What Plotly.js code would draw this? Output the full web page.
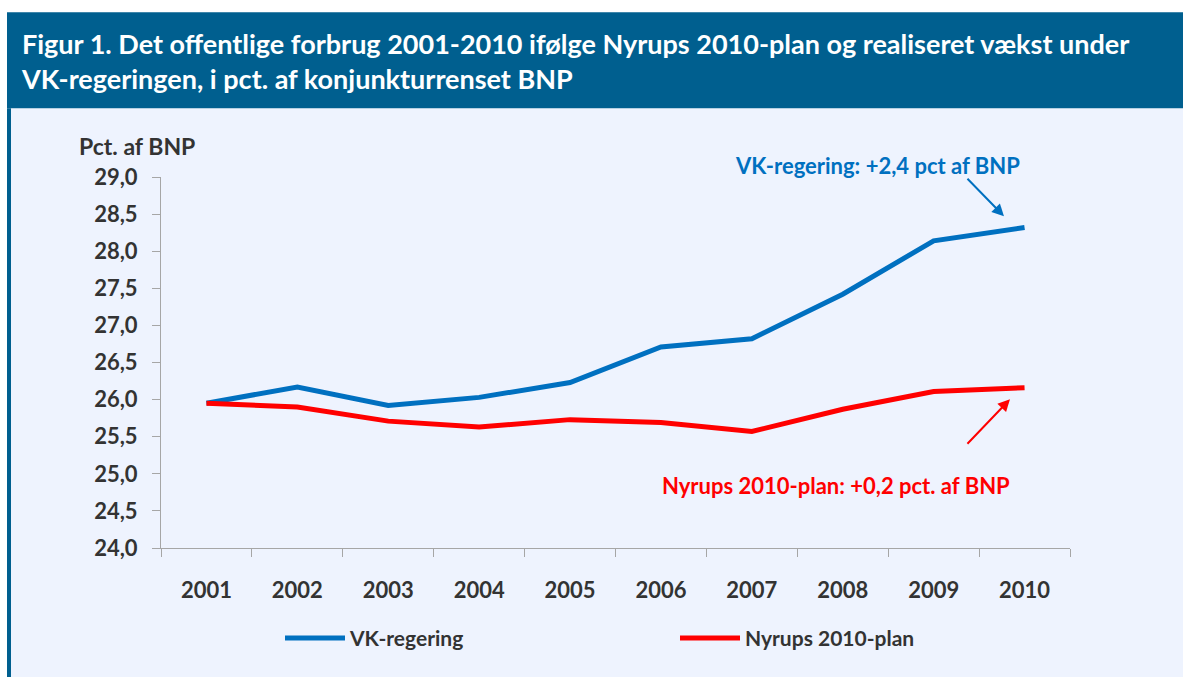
<!DOCTYPE html>
<html>
<head>
<meta charset="utf-8">
<script src="https://cdn.plot.ly/plotly-3.0.1.min.js"></script>
<style>html,body{margin:0;padding:0;background:#fff;}#chart{width:1183px;height:677px;}</style>
</head>
<body>
<div id="chart"></div>
<script>
var years = ['2001','2002','2003','2004','2005','2006','2007','2008','2009','2010'];
var vkRegering = [25.95, 26.17, 25.92, 26.03, 26.23, 26.71, 26.82, 27.42, 28.14, 28.32];
var nyrupsPlan = [25.95, 25.90, 25.71, 25.63, 25.73, 25.69, 25.57, 25.87, 26.11, 26.16];
var yTickVals = [24, 24.5, 25, 25.5, 26, 26.5, 27, 27.5, 28, 28.5, 29];
var yTickText = ['24,0','24,5','25,0','25,5','26,0','26,5','27,0','27,5','28,0','28,5','29,0'];
var seriesNames = ['VK-regering', 'Nyrups 2010-plan'];

var FONT = 'Lato, "Open Sans", sans-serif';
var L = 161, R = 1070, T = 176.7, B = 547.7;
function px(x){ return (x - L) / (R - L); }
function py(y){ return (B - y) / (B - T); }

var traces = [
  {x: years, y: vkRegering, name: seriesNames[0], type: 'scatter', mode: 'lines',
   line: {color: '#0070C0', width: 5}},
  {x: years, y: nyrupsPlan, name: seriesNames[1], type: 'scatter', mode: 'lines',
   line: {color: '#FF0000', width: 5}}
];

var layout = {
  width: 1183, height: 677,
  margin: {l: L, r: 1183 - R, t: T, b: 677 - B, pad: 0},
  paper_bgcolor: '#FFFFFF',
  plot_bgcolor: 'rgba(0,0,0,0)',
  font: {family: FONT, color: '#333333'},
  showlegend: true,
  title: {
    text: 'Figur 1. Det offentlige forbrug 2001-2010 ifølge Nyrups 2010-plan og realiseret vækst under<br>VK-regeringen, i pct. af konjunkturrenset BNP',
    font: {family: FONT, size: 27, color: '#FFFFFF', weight: 'bold'},
    x: 22 / 1183, xanchor: 'left', xref: 'container',
    y: 1 - 54 / 677, yanchor: 'top', yref: 'container'
  },
  xaxis: {
    type: 'category', tickson: 'boundaries',
    range: [-0.5, 9.5],
    showline: true, linecolor: '#A6A6A6', linewidth: 1,
    ticks: 'outside', ticklen: 8, tickcolor: '#A6A6A6', tickwidth: 1,
    ticklabelstandoff: 23,
    tickfont: {family: FONT, size: 22, color: '#333333', weight: 'bold'},
    showgrid: false, zeroline: false, fixedrange: true
  },
  yaxis: {
    range: [24, 29],
    tickvals: yTickVals, ticktext: yTickText,
    showline: true, linecolor: '#A6A6A6', linewidth: 1,
    ticks: 'outside', ticklen: 8, tickcolor: '#A6A6A6', tickwidth: 1,
    ticklabelstandoff: 10,
    tickfont: {family: FONT, size: 22, color: '#333333', weight: 'bold'},
    showgrid: false, zeroline: false, fixedrange: true
  },
  legend: {
    orientation: 'h', x: px(280), xanchor: 'left', y: py(638), yanchor: 'middle',
    itemwidth: 60, entrywidth: 320, entrywidthmode: 'pixels',
    font: {family: FONT, size: 21, color: '#333333', weight: 'bold'},
    bgcolor: 'rgba(0,0,0,0)', traceorder: 'normal'
  },
  shapes: [
    {type: 'rect', xref: 'paper', yref: 'paper', x0: px(11), x1: px(1190), y0: py(680), y1: py(108),
     fillcolor: '#EEF3FE', line: {width: 0}, layer: 'below'},
    {type: 'rect', xref: 'paper', yref: 'paper', x0: px(7), x1: px(1190), y0: py(108), y1: py(12),
     fillcolor: '#005F8F', line: {width: 0}, layer: 'below'},
    {type: 'rect', xref: 'paper', yref: 'paper', x0: px(7), x1: px(11), y0: py(680), y1: py(108),
     fillcolor: '#005F8F', line: {width: 0}, layer: 'below'}
  ],
  annotations: [
    {text: 'Pct. af BNP', xref: 'paper', yref: 'paper', x: px(137), y: py(146),
     xanchor: 'center', yanchor: 'middle', showarrow: false,
     font: {family: FONT, size: 23, color: '#333333', weight: 'bold'}},
    {text: 'VK-regering: +2,4 pct af BNP', xref: 'paper', yref: 'paper', x: px(877), y: py(165),
     xanchor: 'center', yanchor: 'middle', showarrow: false,
     font: {family: FONT, size: 22, color: '#0070C0', weight: 'bold'}},
    {text: 'Nyrups 2010-plan: +0,2 pct. af BNP', xref: 'paper', yref: 'paper', x: px(836), y: py(485),
     xanchor: 'center', yanchor: 'middle', showarrow: false,
     font: {family: FONT, size: 22, color: '#FF0000', weight: 'bold'}},
    {text: '', xref: 'paper', yref: 'paper', x: px(1004), y: py(216), ax: -38, ay: -39,
     showarrow: true, arrowhead: 2, arrowsize: 1.2, arrowwidth: 2, arrowcolor: '#0070C0'},
    {text: '', xref: 'paper', yref: 'paper', x: px(1010), y: py(399), ax: -44, ay: 46,
     showarrow: true, arrowhead: 2, arrowsize: 1.2, arrowwidth: 2, arrowcolor: '#FF0000'}
  ]
};

Plotly.newPlot('chart', traces, layout, {displayModeBar: false, staticPlot: true});
</script>
</body>
</html>
